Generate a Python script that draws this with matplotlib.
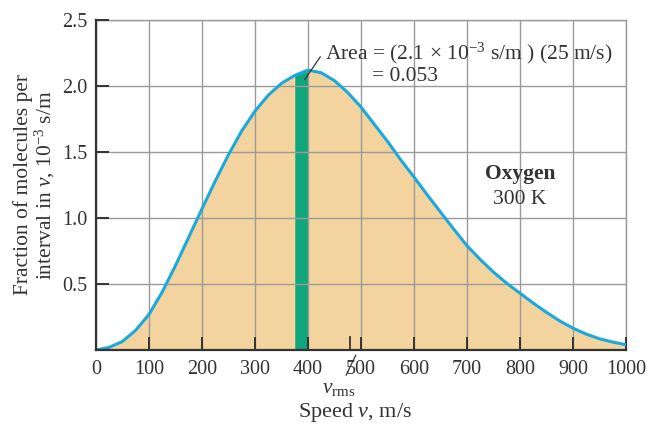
import matplotlib
matplotlib.use('Agg')
import matplotlib.pyplot as plt

plt.rcParams['font.family'] = ['Liberation Serif', 'DejaVu Serif']
plt.rcParams['mathtext.fontset'] = 'custom'
plt.rcParams['mathtext.rm'] = 'Liberation Serif'
plt.rcParams['mathtext.it'] = 'Liberation Serif:italic'
plt.rcParams['mathtext.bf'] = 'Liberation Serif:bold'

# speed (m/s) and fraction per interval (10^-3 s/m)
speed = [0, 25, 50, 75, 100, 125, 150, 175, 200, 225, 250, 275, 300, 325,
         350, 375, 400, 425, 450, 475, 500, 525, 550, 575, 600, 625, 650,
         675, 700, 725, 750, 775, 800, 825, 850, 875, 900, 925, 950, 975, 1000]
fraction = [0.0, 0.02, 0.065, 0.15, 0.27, 0.44, 0.64, 0.855, 1.07, 1.28, 1.48,
            1.66, 1.81, 1.93, 2.02, 2.08, 2.12, 2.10, 2.04, 1.95, 1.84, 1.71,
            1.58, 1.44, 1.31, 1.175, 1.045, 0.915, 0.79, 0.685, 0.59, 0.505,
            0.43, 0.355, 0.285, 0.22, 0.165, 0.12, 0.085, 0.06, 0.04]

bar_speed = [375, 400]
bar_fraction = [2.08, 2.12]
v_rms = 480

x_ticks = list(range(0, 1001, 100))
y_ticks = [0.5, 1.0, 1.5, 2.0, 2.5]

ink = '#333333'

fig = plt.figure(figsize=(6.51, 4.25), dpi=100)
ax = fig.add_axes([0.1475, 0.1765, 0.8141, 0.7765])

ax.fill_between(speed, fraction, 0, color='#F4D49E', lw=0, zorder=1)
ax.fill_between(bar_speed, bar_fraction, 0, color='#11A57C', lw=0, zorder=2)
ax.plot(speed, fraction, color='#1BA8DE', lw=2.2, zorder=4,
        solid_capstyle='round', solid_joinstyle='round')

ax.set_xlim(0, 1000)
ax.set_ylim(0, 2.5)
ax.set_xticks(x_ticks)
ax.set_yticks(y_ticks)
ax.set_yticklabels(['%.1f' % t for t in y_ticks])
ax.grid(color='#9a9a9a', lw=1.0, zorder=3)
ax.set_axisbelow(False)
ax.tick_params(direction='in', length=9.5, width=1.4, color=ink,
               labelsize=14.5, labelcolor=ink, pad=6)
ax.tick_params(axis='x', pad=7)

for side in ['top', 'right']:
    ax.spines[side].set_color('#9a9a9a')
    ax.spines[side].set_linewidth(1.0)
for side in ['left', 'bottom']:
    ax.spines[side].set_color(ink)
    ax.spines[side].set_linewidth(1.6)
    ax.spines[side].set_zorder(5)

# v_rms tick, slash and label below the axis
ax.plot([v_rms, v_rms], [0, 0.1], color=ink, lw=1.3, zorder=5)
ax.plot([490, 472], [-0.04, -0.19], color=ink, lw=0.9, clip_on=False)
ax.text(458, -0.29, r'$v_{\mathrm{rms}}$', fontsize=15.5, color=ink,
        ha='center', va='center')

ax.set_xlabel(r'Speed $v$, m/s', fontsize=16, color=ink)
ax.xaxis.set_label_coords(0.489, -0.155)
ax.set_ylabel('Fraction of molecules per\ninterval in $v$, $10^{-3}$ s/m',
              fontsize=15.5, color=ink, labelpad=4, linespacing=1.0)

# area annotation
ax.plot([394, 423], [2.05, 2.22], color=ink, lw=0.9, zorder=6)
ax.text(432, 2.245, 'Area = (2.1 × $10^{-3}$ s/m ) (25 m/s)', fontsize=15.5,
        color=ink, ha='left', va='center', zorder=6)
ax.text(521, 2.07, '= 0.053', fontsize=15.5, color=ink, ha='left',
        va='center', zorder=6)

ax.text(800, 1.33, 'Oxygen', fontsize=15.5, fontweight='bold', ha='center',
        va='center', color=ink, zorder=6)
ax.text(800, 1.14, '300 K', fontsize=15.5, ha='center', va='center',
        color=ink, zorder=6)

plt.savefig('out.png', dpi=100)
